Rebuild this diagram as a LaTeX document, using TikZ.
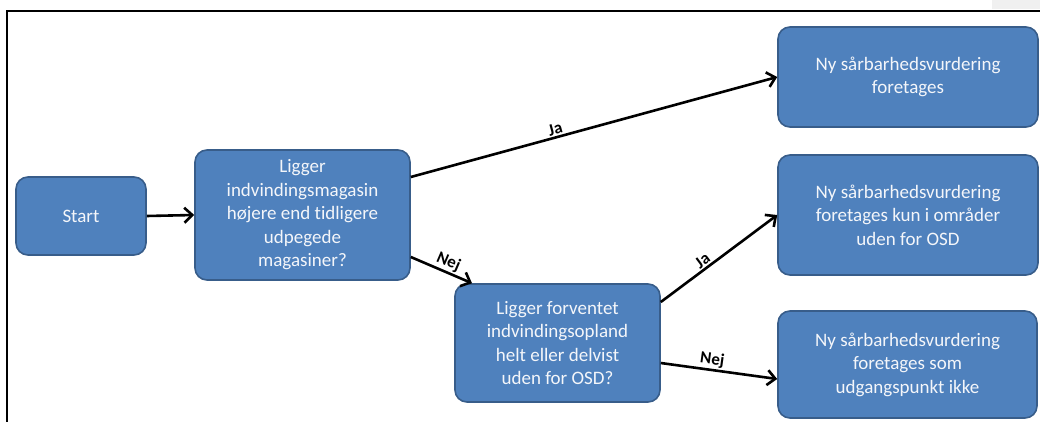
\documentclass[tikz,border=0pt]{standalone}
\usepackage{fontspec}
\setmainfont{Carlito}[Ligatures={NoCommon}]
\usetikzlibrary{arrows.meta,calc}
\definecolor{boxfill}{HTML}{4F81BD}
\definecolor{boxdraw}{HTML}{385D8A}
\definecolor{boxtext}{HTML}{F4F6FA}
\definecolor{cornergray}{HTML}{F0F0F0}
\tikzset{
  flowbox/.style={draw=boxdraw, fill=boxfill, line width=1.6pt, rounded corners=12pt,
    text=boxtext, align=center, inner sep=2pt,
    font=\fontsize{19}{23.5}\selectfont},
  flowarrow/.style={draw=black, line width=2.6pt, -{Straight Barb[length=8pt,width=15pt,line width=2.6pt]}},
  edgelabel/.style={font=\fontsize{17}{20}\bfseries\selectfont, text=black, inner sep=1.5pt, sloped, above}
}
\begin{document}
\begin{tikzpicture}[x=1pt,y=-1pt]
\useasboundingbox (0,0) rectangle (1040,422);
% frame
\fill[cornergray] (992,0) rectangle (1040,9);
\draw[line width=2pt] (7,422) -- (7,11) -- (1040,11);
% nodes
\node[flowbox, minimum width=130pt, minimum height=78pt] (start) at (81,216) {Start};
\node[flowbox, minimum width=215pt, minimum height=130pt] (q1) at (302.5,215)
  {Ligger\\indvindingsmagasin\\højere end tidligere\\udpegede\\magasiner?};
\node[flowbox, minimum width=205pt, minimum height=118pt] (q2) at (557.5,343)
  {Ligger forventet\\indvindingsopland\\helt eller delvist\\uden for OSD?};
\node[flowbox, minimum width=260pt, minimum height=100pt] (r1) at (908,77)
  {Ny sårbarhedsvurdering\\foretages};
\node[flowbox, minimum width=260pt, minimum height=120pt] (r2) at (908,215)
  {Ny sårbarhedsvurdering\\foretages kun i områder\\uden for OSD};
\node[flowbox, minimum width=259pt, minimum height=107pt] (r3) at (907.5,364.5)
  {Ny sårbarhedsvurdering\\foretages som\\udgangspunkt ikke};
% connectors
\draw[flowarrow] (start.east) -- (q1.west);
\draw[flowarrow] ([yshift=38pt]q1.east) -- node[edgelabel, pos=0.40] {Ja} (r1.west);
\draw[flowarrow] ([yshift=-42pt]q1.east) -- node[edgelabel, pos=0.55] {Nej} ([xshift=-85.5pt]q2.north);
\draw[flowarrow] ([yshift=41pt]q2.east) -- node[edgelabel, pos=0.40] {Ja} (r2.west);
\draw[flowarrow] ([yshift=-20pt]q2.east) -- node[edgelabel, pos=0.43] {Nej} ([yshift=-14.5pt]r3.west);
\end{tikzpicture}
\end{document}
